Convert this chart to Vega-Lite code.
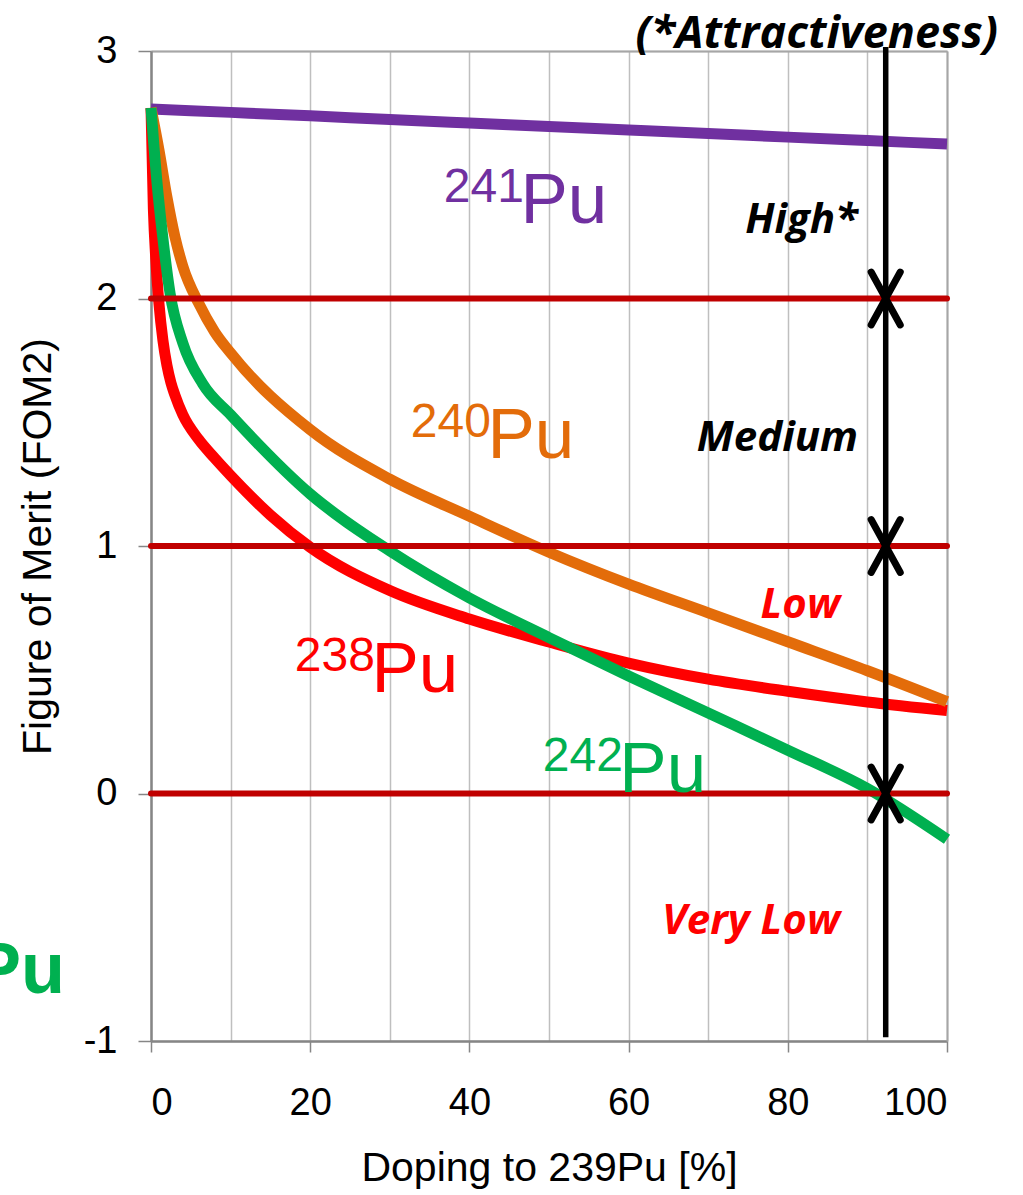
{
  "$schema": "https://vega.github.io/schema/vega-lite/v6.json",
  "width": 796,
  "height": 990,
  "autosize": "none",
  "padding": {"left": 151, "top": 51, "right": 76, "bottom": 154},
  "config": {"view": {"stroke": null}, "font": "Liberation Sans"},
  "datasets": {
    "curves": [
      {"series": "241Pu", "x": 0, "y": 2.766}, {"series": "241Pu", "x": 10, "y": 2.752}, {"series": "241Pu", "x": 20, "y": 2.738},
      {"series": "241Pu", "x": 30, "y": 2.723}, {"series": "241Pu", "x": 40, "y": 2.709}, {"series": "241Pu", "x": 50, "y": 2.695},
      {"series": "241Pu", "x": 60, "y": 2.681}, {"series": "241Pu", "x": 70, "y": 2.667}, {"series": "241Pu", "x": 80, "y": 2.652},
      {"series": "241Pu", "x": 90, "y": 2.638}, {"series": "241Pu", "x": 100, "y": 2.624},
      {"series": "238Pu", "x": 0, "y": 2.77}, {"series": "238Pu", "x": 0.3, "y": 2.36}, {"series": "238Pu", "x": 0.6, "y": 2.16},
      {"series": "238Pu", "x": 1, "y": 1.98}, {"series": "238Pu", "x": 1.5, "y": 1.83}, {"series": "238Pu", "x": 2, "y": 1.73},
      {"series": "238Pu", "x": 2.5, "y": 1.66}, {"series": "238Pu", "x": 3, "y": 1.61},
      {"series": "238Pu", "x": 4, "y": 1.53}, {"series": "238Pu", "x": 6, "y": 1.43}, {"series": "238Pu", "x": 8, "y": 1.355},
      {"series": "238Pu", "x": 10, "y": 1.285}, {"series": "238Pu", "x": 15, "y": 1.125}, {"series": "238Pu", "x": 20, "y": 0.995},
      {"series": "238Pu", "x": 30, "y": 0.82}, {"series": "238Pu", "x": 40, "y": 0.705}, {"series": "238Pu", "x": 50, "y": 0.612},
      {"series": "238Pu", "x": 60, "y": 0.527}, {"series": "238Pu", "x": 70, "y": 0.462}, {"series": "238Pu", "x": 80, "y": 0.413},
      {"series": "238Pu", "x": 90, "y": 0.37}, {"series": "238Pu", "x": 100, "y": 0.335},
      {"series": "240Pu", "x": 0, "y": 2.77}, {"series": "240Pu", "x": 1, "y": 2.6}, {"series": "240Pu", "x": 2, "y": 2.41},
      {"series": "240Pu", "x": 3, "y": 2.25}, {"series": "240Pu", "x": 4, "y": 2.13}, {"series": "240Pu", "x": 6, "y": 1.98},
      {"series": "240Pu", "x": 8, "y": 1.865}, {"series": "240Pu", "x": 10, "y": 1.78}, {"series": "240Pu", "x": 20, "y": 1.47},
      {"series": "240Pu", "x": 30, "y": 1.27}, {"series": "240Pu", "x": 40, "y": 1.12}, {"series": "240Pu", "x": 50, "y": 0.975},
      {"series": "240Pu", "x": 60, "y": 0.846}, {"series": "240Pu", "x": 70, "y": 0.73}, {"series": "240Pu", "x": 80, "y": 0.613},
      {"series": "240Pu", "x": 90, "y": 0.496}, {"series": "240Pu", "x": 100, "y": 0.371},
      {"series": "242Pu", "x": 0, "y": 2.77}, {"series": "242Pu", "x": 0.75, "y": 2.47}, {"series": "242Pu", "x": 1.4, "y": 2.27},
      {"series": "242Pu", "x": 2.4, "y": 2.02}, {"series": "242Pu", "x": 4, "y": 1.82}, {"series": "242Pu", "x": 6.5, "y": 1.655},
      {"series": "242Pu", "x": 10, "y": 1.53}, {"series": "242Pu", "x": 20, "y": 1.21}, {"series": "242Pu", "x": 30, "y": 0.98},
      {"series": "242Pu", "x": 40, "y": 0.79}, {"series": "242Pu", "x": 50, "y": 0.63}, {"series": "242Pu", "x": 60, "y": 0.475},
      {"series": "242Pu", "x": 70, "y": 0.325}, {"series": "242Pu", "x": 80, "y": 0.175}, {"series": "242Pu", "x": 90, "y": 0.02},
      {"series": "242Pu", "x": 100, "y": -0.185}
    ],
    "levels": [{"level": 2}, {"level": 1}, {"level": 0}],
    "arrow": [{"x": 92.3, "y": 3.016, "y2": -0.985}],
    "tips": [{"x": 92.3, "y": 2}, {"x": 92.3, "y": 1}, {"x": 92.3, "y": 0}],
    "isotopes": [
      {"series": "241Pu", "mass": "241", "x": 46.41, "y": 2.305},
      {"series": "240Pu", "mass": "240", "x": 42.26, "y": 1.356},
      {"series": "238Pu", "mass": "238", "x": 27.69, "y": 0.41},
      {"series": "242Pu", "mass": "242", "x": 58.84, "y": 0.006}
    ],
    "zones": [
      {"label": "High*", "x": 88.82, "y": 2.265},
      {"label": "Medium", "x": 88.82, "y": 1.384},
      {"label": "Low", "x": 86.56, "y": 0.709},
      {"label": "Very Low", "x": 86.56, "y": -0.568}
    ],
    "notes": [{"label": "(*Attractiveness)", "x": 106.4, "y": 3.014}],
    "stray": [{"series": "242Pu", "label": "Pu", "x": -10.8, "y": -0.806}]
  },
  "layer": [
    {
      "data": {"name": "curves"},
      "mark": {"type": "line", "strokeWidth": 11, "interpolate": "monotone", "strokeCap": "butt", "strokeJoin": "round"},
      "encoding": {
        "x": {
          "field": "x", "type": "quantitative",
          "scale": {"domain": [0, 100], "nice": false, "zero": false},
          "axis": {
            "orient": "bottom", "values": [0, 20, 40, 60, 80, 100], "grid": false,
            "domainColor": "#868686", "domainWidth": 2.5, "tickColor": "#868686", "tickWidth": 1.5, "tickSize": 11,
            "labelFontSize": 38, "labelColor": "#000000", "labelPadding": 32, "labelFont": "Liberation Sans",
            "title": "Doping to 239Pu [%]", "titleFontSize": 41, "titleFontWeight": "normal", "titleColor": "#000000",
            "titleFont": "Liberation Sans", "titlePadding": 26
          }
        },
        "y": {
          "field": "y", "type": "quantitative",
          "scale": {"domain": [-1, 3], "nice": false, "zero": false},
          "axis": {
            "orient": "left", "values": [-1, 0, 1, 2, 3], "grid": true, "gridColor": "#BFBFBF", "gridWidth": 1.5,
            "domainColor": "#868686", "domainWidth": 2.5, "tickColor": "#868686", "tickWidth": 1.5, "tickSize": 13,
            "labelFontSize": 38, "labelColor": "#000000", "labelPadding": 21, "labelFont": "Liberation Sans",
            "labelExpr": "'' + datum.value",
            "title": "Figure of Merit (FOM2)", "titleFontSize": 41, "titleFontWeight": "normal", "titleColor": "#000000",
            "titleFont": "Liberation Sans", "titlePadding": 24
          }
        },
        "color": {
          "field": "series", "type": "nominal",
          "scale": {"domain": ["241Pu", "238Pu", "240Pu", "242Pu"], "range": ["#7030A0", "#FF0000", "#E36C0A", "#00B050"]},
          "legend": null
        },
        "order": {"field": "x", "type": "quantitative"},
        "detail": {"field": "series"}
      }
    },
    {
      "data": {"name": "levels"},
      "mark": {"type": "rule", "color": "#C00000", "strokeWidth": 6, "strokeCap": "round"},
      "encoding": {
        "y": {
          "field": "level", "type": "quantitative",
          "axis": {"orient": "right", "domain": true, "domainColor": "#A6A6A6", "domainWidth": 2, "labels": false, "ticks": false, "grid": false, "title": null}
        }
      }
    },
    {
      "data": {"name": "arrow"},
      "mark": {"type": "rule", "color": "#000000", "strokeWidth": 5.5},
      "encoding": {
        "x": {
          "field": "x", "type": "quantitative",
          "axis": {
            "orient": "top", "values": [0, 10, 20, 30, 40, 50, 60, 70, 80, 90, 100], "grid": true, "gridColor": "#BFBFBF", "gridWidth": 1.5,
            "domain": true, "domainColor": "#A6A6A6", "domainWidth": 2, "labels": false, "ticks": false, "title": null
          }
        },
        "y": {"field": "y", "type": "quantitative", "axis": null},
        "y2": {"field": "y2"}
      }
    },
    {
      "data": {"name": "tips"},
      "mark": {"type": "point", "shape": "M-1.1,-2L0,0L1.1,-2", "filled": false, "stroke": "#000000", "strokeWidth": 7, "size": 700, "opacity": 1, "strokeCap": "round"},
      "encoding": {
        "x": {"field": "x", "type": "quantitative", "axis": null},
        "y": {"field": "y", "type": "quantitative", "axis": null}
      }
    },
    {
      "data": {"name": "tips"},
      "mark": {"type": "point", "shape": "M-1.1,2L0,0L1.1,2", "filled": false, "stroke": "#000000", "strokeWidth": 7, "size": 700, "opacity": 1, "strokeCap": "round"},
      "encoding": {
        "x": {"field": "x", "type": "quantitative", "axis": null},
        "y": {"field": "y", "type": "quantitative", "axis": null}
      }
    },
    {
      "data": {"name": "isotopes"},
      "mark": {"type": "text", "align": "left", "baseline": "alphabetic", "fontSize": 71, "font": "Liberation Sans"},
      "encoding": {
        "x": {"field": "x", "type": "quantitative", "axis": null},
        "y": {"field": "y", "type": "quantitative", "axis": null},
        "text": {"value": "Pu"},
        "color": {"field": "series", "type": "nominal", "legend": null}
      }
    },
    {
      "data": {"name": "isotopes"},
      "mark": {"type": "text", "align": "right", "baseline": "alphabetic", "fontSize": 48, "dx": 3.5, "dy": -21, "font": "Liberation Sans"},
      "encoding": {
        "x": {"field": "x", "type": "quantitative", "axis": null},
        "y": {"field": "y", "type": "quantitative", "axis": null},
        "text": {"field": "mass"},
        "color": {"field": "series", "type": "nominal", "legend": null}
      }
    },
    {
      "data": {"name": "zones"},
      "mark": {"type": "text", "align": "right", "baseline": "alphabetic", "fontSize": 42, "font": "Open Sans", "fontWeight": "bold", "fontStyle": "italic"},
      "encoding": {
        "x": {"field": "x", "type": "quantitative", "axis": null},
        "y": {"field": "y", "type": "quantitative", "axis": null},
        "text": {"field": "label"},
        "color": {"condition": {"test": "datum.label === 'Low' || datum.label === 'Very Low'", "value": "#FF0000"}, "value": "#000000"}
      }
    },
    {
      "data": {"name": "notes"},
      "mark": {"type": "text", "align": "right", "baseline": "alphabetic", "fontSize": 45, "font": "Open Sans", "fontWeight": "bold", "fontStyle": "italic", "color": "#000000"},
      "encoding": {
        "x": {"field": "x", "type": "quantitative", "axis": null},
        "y": {"field": "y", "type": "quantitative", "axis": null},
        "text": {"field": "label"}
      }
    },
    {
      "data": {"name": "stray"},
      "mark": {"type": "text", "align": "right", "baseline": "alphabetic", "fontSize": 72, "font": "Liberation Sans", "fontWeight": "bold"},
      "encoding": {
        "x": {"field": "x", "type": "quantitative", "axis": null},
        "y": {"field": "y", "type": "quantitative", "axis": null},
        "text": {"field": "label"},
        "color": {"field": "series", "type": "nominal", "legend": null}
      }
    }
  ],
  "resolve": {"axis": {"x": "independent", "y": "independent"}}
}
